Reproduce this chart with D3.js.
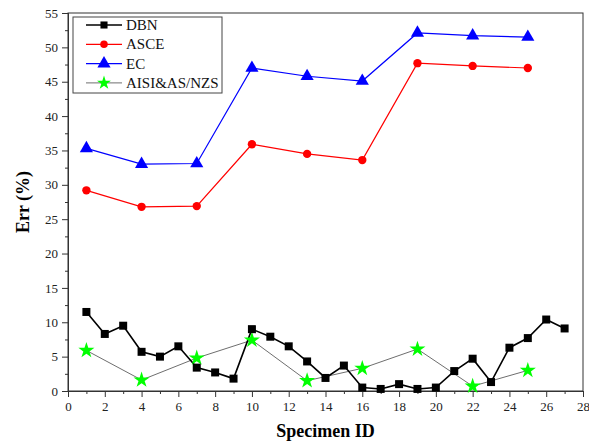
<!DOCTYPE html>
<html>
<head>
<meta charset="utf-8">
<script src="https://cdn.jsdelivr.net/npm/d3@7"></script>
<style>
  html, body { margin: 0; padding: 0; background: #fff; }
  svg { display: block; }
  svg text { font-family: "Liberation Serif", "Times New Roman", serif; }
</style>
</head>
<body>
<svg id="chart" width="589" height="445"></svg>
<script>
// Error (%) of each design method per specimen
const dbnIds = [1,2,3,4,5,6,7,8,9,10,11,12,13,14,15,16,17,18,19,20,21,22,23,24,25,26,27];
const dbnErr = [11.5,8.3,9.5,5.7,5.0,6.5,3.4,2.7,1.8,9.0,7.9,6.5,4.3,1.9,3.7,0.5,0.3,1.0,0.3,0.5,2.9,4.7,1.3,6.3,7.7,10.4,9.1];

const codeIds = [1,4,7,10,13,16,19,22,25];
const asceErr = [29.2,26.8,26.9,35.9,34.5,33.6,47.7,47.3,47.0];
const ecErr   = [35.3,33.0,33.1,47.0,45.8,45.1,52.1,51.7,51.5];
const aisiErr = [5.9,1.6,4.8,7.4,1.5,3.3,6.1,0.7,3.0];

const xTicks = [0,2,4,6,8,10,12,14,16,18,20,22,24,26,28];
const yTicks = [0,5,10,15,20,25,30,35,40,45,50,55];

const seriesNames = ["DBN", "ASCE", "EC", "AISI&AS/NZS"];

const svg = d3.select("#chart");
const margin = { left: 68, top: 13, right: 6, bottom: 54 };
const W = 589, H = 445;

const x = d3.scaleLinear().domain([0, 28]).range([margin.left, W - margin.right]);
const y = d3.scaleLinear().domain([0, 55]).range([H - margin.bottom, margin.top]);

const axisColor = "#333";

// plot frame
svg.append("rect")
  .attr("x", x(0)).attr("y", y(55))
  .attr("width", x(28) - x(0)).attr("height", y(0) - y(55))
  .attr("fill", "none").attr("stroke", axisColor).attr("stroke-width", 1);

// minor ticks
const xMinor = d3.range(1, 28, 2);
const yMinor = d3.range(2.5, 55, 5);

const xAxis = svg.append("g").attr("transform", `translate(0,${y(0)})`);
xAxis.call(d3.axisBottom(x).tickValues(xTicks).tickSize(6).tickPadding(5).tickFormat(d3.format("d")));
xAxis.append("g").call(d3.axisBottom(x).tickValues(xMinor).tickSize(3).tickFormat(""));

const yAxis = svg.append("g").attr("transform", `translate(${x(0)},0)`);
yAxis.call(d3.axisLeft(y).tickValues(yTicks).tickSize(6).tickPadding(4).tickFormat(d3.format("d")));
yAxis.append("g").call(d3.axisLeft(y).tickValues(yMinor).tickSize(3).tickFormat(""));

svg.selectAll(".domain").attr("stroke", axisColor);
svg.selectAll(".tick line").attr("stroke", axisColor);
svg.selectAll(".tick text")
  .style("font-family", "'Liberation Serif', 'Times New Roman', serif")
  .style("font-size", "13px").attr("fill", "#222");

// axis titles
svg.append("text")
  .attr("x", (x(0) + x(28)) / 2).attr("y", 437)
  .attr("text-anchor", "middle")
  .attr("font-weight", "bold").attr("font-size", 18)
  .text("Specimen ID");

svg.append("text")
  .attr("transform", `translate(29,${(y(0) + y(55)) / 2}) rotate(-90)`)
  .attr("text-anchor", "middle")
  .attr("font-weight", "bold").attr("font-size", 18)
  .text("Err (%)");

const line = d3.line().x(d => x(d[0])).y(d => y(d[1]));

const dbnPts  = dbnIds.map((id, i) => [id, dbnErr[i]]);
const ascePts = codeIds.map((id, i) => [id, asceErr[i]]);
const ecPts   = codeIds.map((id, i) => [id, ecErr[i]]);
const aisiPts = codeIds.map((id, i) => [id, aisiErr[i]]);

const plot = svg.append("g");

// connecting lines
plot.append("path").datum(aisiPts).attr("d", line)
  .attr("fill", "none").attr("stroke", "#6e6e6e").attr("stroke-width", 1);
plot.append("path").datum(ascePts).attr("d", line)
  .attr("fill", "none").attr("stroke", "#ff0000").attr("stroke-width", 1.2);
plot.append("path").datum(ecPts).attr("d", line)
  .attr("fill", "none").attr("stroke", "#0000ff").attr("stroke-width", 1.2);
plot.append("path").datum(dbnPts).attr("d", line)
  .attr("fill", "none").attr("stroke", "#000").attr("stroke-width", 1.6);

// marker shapes
const sq   = d3.symbol().type(d3.symbolSquare).size(64);
const circ = d3.symbol().type(d3.symbolCircle).size(55);
const tri  = d3.symbol().type(d3.symbolTriangle).size(75);
const star = d3.symbol().type(d3.symbolStar).size(80);

function markers(pts, sym, fill) {
  plot.append("g").selectAll("path").data(pts).join("path")
    .attr("d", sym)
    .attr("transform", d => `translate(${x(d[0])},${y(d[1])})`)
    .attr("fill", fill);
}
markers(ascePts, circ, "#ff0000");
markers(ecPts, tri, "#0000ff");
markers(aisiPts, star, "#00ff00");
markers(dbnPts, sq, "#000");

// legend
const lg = svg.append("g");
lg.append("rect")
  .attr("x", 73).attr("y", 17).attr("width", 149).attr("height", 76)
  .attr("fill", "#fff").attr("stroke", "#444").attr("stroke-width", 1);

const legendItems = [
  { name: seriesNames[0], color: "#000", sym: d3.symbol().type(d3.symbolSquare).size(50), lw: 1.6 },
  { name: seriesNames[1], color: "#ff0000", mcolor: "#ff0000", sym: d3.symbol().type(d3.symbolCircle).size(45), lw: 1.2 },
  { name: seriesNames[2], color: "#0000ff", mcolor: "#0000ff", sym: d3.symbol().type(d3.symbolTriangle).size(75), lw: 1.2 },
  { name: seriesNames[3], color: "#6e6e6e", mcolor: "#00ff00", sym: d3.symbol().type(d3.symbolStar).size(60), lw: 1 }
];
legendItems.forEach((it, i) => {
  const cy = 25 + i * 19.3;
  lg.append("line").attr("x1", 86).attr("x2", 122).attr("y1", cy).attr("y2", cy)
    .attr("stroke", it.color).attr("stroke-width", it.lw);
  lg.append("path").attr("d", it.sym).attr("transform", `translate(104,${cy})`)
    .attr("fill", it.mcolor || it.color);
  lg.append("text").attr("x", 126).attr("y", cy + 5)
    .attr("font-size", 15).attr("fill", "#111").text(it.name);
});
</script>
</body>
</html>
